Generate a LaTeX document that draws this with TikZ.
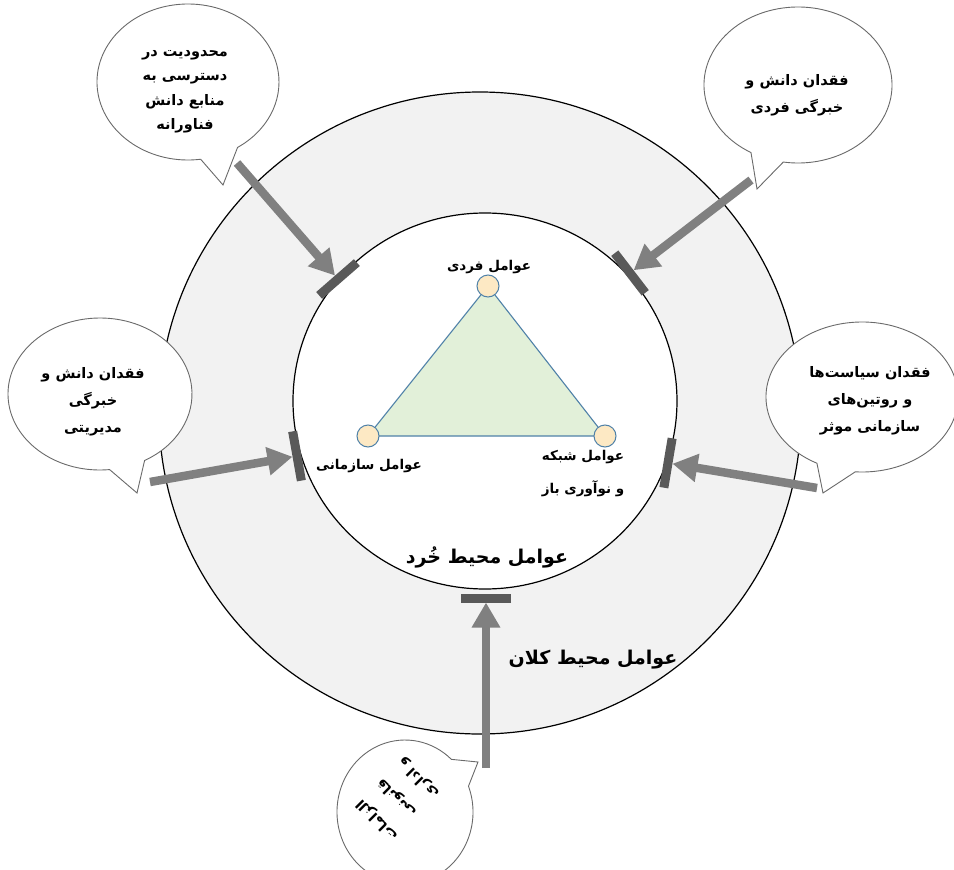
\documentclass[tikz,border=0pt]{standalone}
\usepackage{fontspec}
\usetikzlibrary{arrows.meta,calc,shapes.geometric}
\TeXXeTstate=1
\newfontfamily\arabicfont[Script=Arabic]{DejaVu Sans}
\newcommand{\fa}[1]{\beginR #1\endR}
\definecolor{ringgray}{HTML}{F2F2F2}
\definecolor{arrowgray}{HTML}{808080}
\definecolor{bargray}{HTML}{595959}
\definecolor{trifill}{HTML}{E2F0D9}
\definecolor{triedge}{HTML}{4F81A8}
\definecolor{vertfill}{HTML}{FDE9C4}
\definecolor{calloutgray}{HTML}{6A6A6A}
\begin{document}
\begin{tikzpicture}[x=1pt,y=-1pt,
  lbl/.style={font=\arabicfont\bfseries\fontsize{13.5}{33}\selectfont, align=center, inner sep=0},
  biglbl/.style={font=\arabicfont\bfseries\fontsize{19}{24}\selectfont, inner sep=0},
  ctext/.style={font=\arabicfont\bfseries\fontsize{14.5}{27}\selectfont, align=center, inner sep=0},
  callout/.style={draw=calloutgray, fill=white, line width=0.9pt, line join=miter},
  push/.style={draw=arrowgray, line width=8.5pt, -{Triangle[width=27pt,length=25pt]}, shorten >=4.5pt},
  block/.style={draw=bargray, line width=9pt},
  vert/.style={circle, draw=triedge, fill=vertfill, line width=1pt, minimum size=22pt, inner sep=0}]
\useasboundingbox (0,0) rectangle (954,870);
% rings
\node[draw=black, line width=1.2pt, fill=ringgray, circle, minimum size=642pt, inner sep=0] (outer) at (480,413) {};
\node[draw=black, line width=1.2pt, fill=white, ellipse, minimum width=384pt, minimum height=376pt, inner sep=0] (inner) at (485,401) {};
% triangle
\coordinate (ptop) at (488,286);
\coordinate (pleft) at (368,436);
\coordinate (pright) at (605,436);
\filldraw[fill=trifill, draw=triedge, line width=1.1pt] (ptop) -- (pleft) -- (pright) -- cycle;
\node[vert] (vtop) at (ptop) {};
\node[vert] (vleft) at (pleft) {};
\node[vert] (vright) at (pright) {};
\node[lbl] (ltop) at (489,267) {\fa{عوامل فردی}};
\node[lbl] (lleft) at (369,466) {\fa{عوامل سازمانی}};
\node[lbl] (lright) at (583,474) {\fa{عوامل شبکه}\\\fa{و نوآوری باز}};
\node[biglbl] (micro) at (487,557) {\fa{عوامل محیط خُرد}};
\node[biglbl] (macro) at (593,660) {\fa{عوامل محیط کلان}};
% callouts
\coordinate (tlC) at (188,82);  \coordinate (tlTip) at (223,185);
\coordinate (trC) at (798,85);  \coordinate (trTip) at (757,189);
\coordinate (lC) at (100,394);  \coordinate (lTip) at (137,493);
\coordinate (rC) at (862,397);  \coordinate (rTip) at (823,493);
\coordinate (bC) at (405,812);  \coordinate (bTip) at (478,762);
\draw[callout] (tlTip) -- ($(tlC)+(82:91 and 78)$) arc[start angle=82, end angle=417, x radius=91, y radius=78] -- cycle;
\draw[callout] (trTip) -- ($(trC)+(120:94 and 78)$) arc[start angle=120, end angle=459, x radius=94, y radius=78] -- cycle;
\draw[callout] (lTip) -- ($(lC)+(84:92 and 76)$) arc[start angle=84, end angle=421, x radius=92, y radius=76] -- cycle;
\draw[callout] (rTip) -- ($(rC)+(118:96 and 75)$) arc[start angle=118, end angle=454, x radius=96, y radius=75] -- cycle;
\draw[callout] (bTip) -- ($(bC)+(339:68 and 72)$) arc[start angle=339, end angle=673, x radius=68, y radius=72] -- cycle;
\node[ctext, font=\arabicfont\bfseries\fontsize{14.5}{24.5}\selectfont] (tltext) at (185,92) {\fa{محدودیت در}\\\fa{دسترسی به}\\\fa{منابع دانش}\\\fa{فناورانه}};
\node[ctext] (trtext) at (797,95) {\fa{فقدان دانش و}\\\fa{خبرگی فردی}};
\node[ctext] (ltext) at (93,402) {\fa{فقدان دانش و}\\\fa{خبرگی}\\\fa{مدیریتی}};
\node[ctext] (rtext) at (870,401) {\fa{فقدان سیاست‌ها}\\\fa{و روتین‌های}\\\fa{سازمانی موثر}};
\node[ctext, font=\arabicfont\bfseries\fontsize{14}{29}\selectfont, align=right, rotate=135] (btext) at (398,799) {\fa{الزامات}\\\fa{قانونی}\\\fa{و اداری}};
% arrows with blocking bars
\coordinate (tlS) at (237,163); \coordinate (tlB) at (338,279);
\coordinate (trS) at (751,180); \coordinate (trB) at (630,273);
\coordinate (lS) at (150,482);  \coordinate (lB) at (297,456);
\coordinate (rS) at (817,488);  \coordinate (rB) at (668,463);
\coordinate (bS) at (486,768);  \coordinate (bB) at (486,598);
\foreach \s/\b in {tlS/tlB, trS/trB, lS/lB, rS/rB, bS/bB}{
  \draw[push] (\s) -- (\b);
  \draw[block] ($(\b)!25pt!90:(\s)$) -- ($(\b)!25pt!-90:(\s)$);
}
\end{tikzpicture}
\end{document}
